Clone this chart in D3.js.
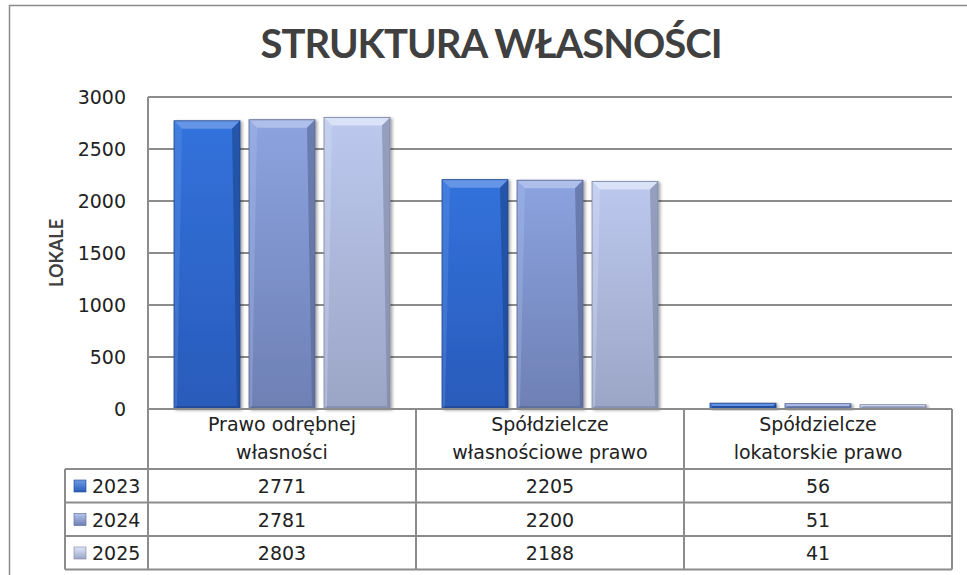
<!DOCTYPE html>
<html>
<head>
<meta charset="utf-8">
<script src="https://cdn.jsdelivr.net/npm/d3@7"></script>
<style>
  body { margin: 0; background: #fff; }
  text { font-family: "DejaVu Sans", sans-serif; fill: #222; }
</style>
</head>
<body>
<div id="chart"></div>
<script>
const categories = [
  ['Prawo odrębnej', 'własności'],
  ['Spółdzielcze', 'własnościowe prawo'],
  ['Spółdzielcze', 'lokatorskie prawo']
];
const years = ['2023', '2024', '2025'];
const values2023 = [2771, 2205, 56];
const values2024 = [2781, 2200, 51];
const values2025 = [2803, 2188, 41];
const yTicks = [0, 500, 1000, 1500, 2000, 2500, 3000];

const series = [values2023, values2024, values2025];
const palette = [
  { top: '#3272dc', bottom: '#2a5bba', light: '#6e9be8', edge: '#1d4388' },
  { top: '#8ca3e0', bottom: '#6e80b4', light: '#b4c4ee', edge: '#56648f' },
  { top: '#bcc8ee', bottom: '#9ba5c6', light: '#dfe6f9', edge: '#7c84a0' }
];

const width = 967, height = 575;
const plot = { left: 148, right: 952, top: 97, bottom: 409 };
const rowH = 33.5, headerBottom = 469, legendLeft = 65;
const bodyFont = '19px';

const svg = d3.select('#chart').append('svg')
  .attr('width', width).attr('height', height);

const defs = svg.append('defs');
palette.forEach((p, i) => {
  const g = defs.append('linearGradient').attr('id', 'grad' + i)
    .attr('x1', 0).attr('y1', 0).attr('x2', 0).attr('y2', 1);
  g.append('stop').attr('offset', '0%').attr('stop-color', p.top);
  g.append('stop').attr('offset', '100%').attr('stop-color', p.bottom);
  const k = defs.append('linearGradient').attr('id', 'key' + i)
    .attr('x1', 0).attr('y1', 0).attr('x2', 0).attr('y2', 1);
  k.append('stop').attr('offset', '0%').attr('stop-color', p.light);
  k.append('stop').attr('offset', '100%').attr('stop-color', p.bottom);
});
defs.append('filter').attr('id', 'shadow')
  .attr('x', '-10%').attr('y', '-10%').attr('width', '130%').attr('height', '130%')
  .append('feDropShadow')
  .attr('dx', 2).attr('dy', 1).attr('stdDeviation', 1.5)
  .attr('flood-color', '#000').attr('flood-opacity', 0.35);

// outer frame (cut at the right and bottom)
svg.append('rect')
  .attr('x', 9.5).attr('y', 5.5).attr('width', 980).attr('height', 600)
  .attr('fill', 'none').attr('stroke', '#8c8c8c').attr('stroke-width', 1.5);

svg.append('text')
  .attr('x', 491).attr('y', 58)
  .attr('text-anchor', 'middle')
  .style('font-family', 'Lato, sans-serif')
  .style('font-size', '40px').style('font-weight', 'bold')
  .style('fill', '#404040').style('letter-spacing', '-1px')
  .text('STRUKTURA WŁASNOŚCI');

const y = d3.scaleLinear().domain([0, 3000]).range([plot.bottom, plot.top]);
const xCat = d3.scaleBand().domain(d3.range(categories.length))
  .range([plot.left, plot.right]);
const xSer = d3.scaleBand().domain(years)
  .range([26, xCat.bandwidth() - 26]).paddingInner(0.12);

// gridlines
svg.append('g').selectAll('line').data(yTicks.slice(1)).join('line')
  .attr('x1', plot.left).attr('x2', plot.right)
  .attr('y1', d => y(d)).attr('y2', d => y(d))
  .attr('stroke', '#8c8c8c').attr('stroke-width', 2);

// y axis labels
const yAxis = svg.append('g')
  .attr('transform', `translate(${plot.left},0)`)
  .call(d3.axisLeft(y).tickValues(yTicks).tickFormat(d3.format('d'))
    .tickSize(0).tickPadding(22));
yAxis.select('.domain').remove();
yAxis.selectAll('text')
  .style('font-family', '"DejaVu Sans", sans-serif')
  .style('font-size', bodyFont).attr('fill', '#222');

svg.append('text')
  .attr('transform', `translate(63,${(plot.top + plot.bottom) / 2}) rotate(-90)`)
  .attr('text-anchor', 'middle')
  .style('font-family', 'Lato, sans-serif')
  .style('font-size', '18px').style('font-weight', 'bold').style('fill', '#404040')
  .text('LOKALE');

// bars
const bars = svg.append('g');
series.forEach((vals, si) => {
  const p = palette[si];
  vals.forEach((v, ci) => {
    const x0 = xCat(ci) + xSer(years[si]);
    const w = xSer.bandwidth();
    const y0 = y(v), h = y(0) - y(v);
    const b = Math.min(8, h / 2);
    const g = bars.append('g').attr('filter', 'url(#shadow)');
    g.append('rect').attr('x', x0).attr('y', y0).attr('width', w).attr('height', h)
      .attr('fill', `url(#grad${si})`);
    // bevel: top light, right & bottom dark, left slight light
    g.append('polygon')
      .attr('points', [[x0, y0], [x0 + w, y0], [x0 + w - b, y0 + b], [x0 + b, y0 + b]].join(' '))
      .attr('fill', p.light).attr('opacity', 0.85);
    g.append('polygon')
      .attr('points', [[x0 + w, y0], [x0 + w, y0 + h], [x0 + w - 3, y0 + h - 3], [x0 + w - b, y0 + b]].join(' '))
      .attr('fill', p.edge).attr('opacity', 0.6);
    g.append('polygon')
      .attr('points', [[x0, y0], [x0 + b, y0 + b], [x0 + 3, y0 + h - 3], [x0, y0 + h]].join(' '))
      .attr('fill', p.light).attr('opacity', 0.3);
    g.append('polygon')
      .attr('points', [[x0, y0 + h], [x0 + 3, y0 + h - 3], [x0 + w - 3, y0 + h - 3], [x0 + w, y0 + h]].join(' '))
      .attr('fill', p.edge).attr('opacity', 0.6);
    g.append('rect').attr('x', x0).attr('y', y0).attr('width', w).attr('height', h)
      .attr('fill', 'none').attr('stroke', p.edge).attr('stroke-width', 0.8);
  });
});

// data table
const table = svg.append('g').attr('stroke', '#8c8c8c').attr('stroke-width', 2);
const tableBottom = headerBottom + rowH * years.length;
// vertical axis line + column lines
table.append('line').attr('x1', plot.left).attr('x2', plot.left)
  .attr('y1', plot.top).attr('y2', tableBottom);
table.selectAll('.col').data(d3.range(1, categories.length + 1)).join('line')
  .attr('x1', d => xCat(d - 1) + xCat.bandwidth()).attr('x2', d => xCat(d - 1) + xCat.bandwidth())
  .attr('y1', plot.bottom).attr('y2', tableBottom);
table.append('line').attr('x1', plot.left).attr('x2', plot.right)
  .attr('y1', plot.bottom).attr('y2', plot.bottom);
// rows
d3.range(years.length + 1).forEach(r => {
  table.append('line').attr('x1', legendLeft).attr('x2', plot.right)
    .attr('y1', headerBottom + r * rowH).attr('y2', headerBottom + r * rowH);
});
table.append('line').attr('x1', legendLeft).attr('x2', legendLeft)
  .attr('y1', headerBottom).attr('y2', tableBottom);

// header text
categories.forEach((lines, ci) => {
  const cx = xCat(ci) + xCat.bandwidth() / 2;
  svg.append('text').attr('x', cx).attr('y', 431).attr('text-anchor', 'middle')
    .style('font-size', bodyFont).text(lines[0]);
  svg.append('text').attr('x', cx).attr('y', 459).attr('text-anchor', 'middle')
    .style('font-size', bodyFont).text(lines[1]);
});

// rows: legend key + values
years.forEach((yr, si) => {
  const ry = headerBottom + si * rowH;
  svg.append('rect').attr('x', 74).attr('y', ry + 11).attr('width', 12).attr('height', 12)
    .attr('fill', `url(#key${si})`).attr('stroke', palette[si].edge).attr('stroke-width', 0.6);
  svg.append('text').attr('x', 92).attr('y', ry + 24)
    .style('font-size', bodyFont).text(yr);
  series[si].forEach((v, ci) => {
    svg.append('text').attr('x', xCat(ci) + xCat.bandwidth() / 2).attr('y', ry + 24)
      .attr('text-anchor', 'middle').style('font-size', bodyFont).text(v);
  });
});
</script>
</body>
</html>
